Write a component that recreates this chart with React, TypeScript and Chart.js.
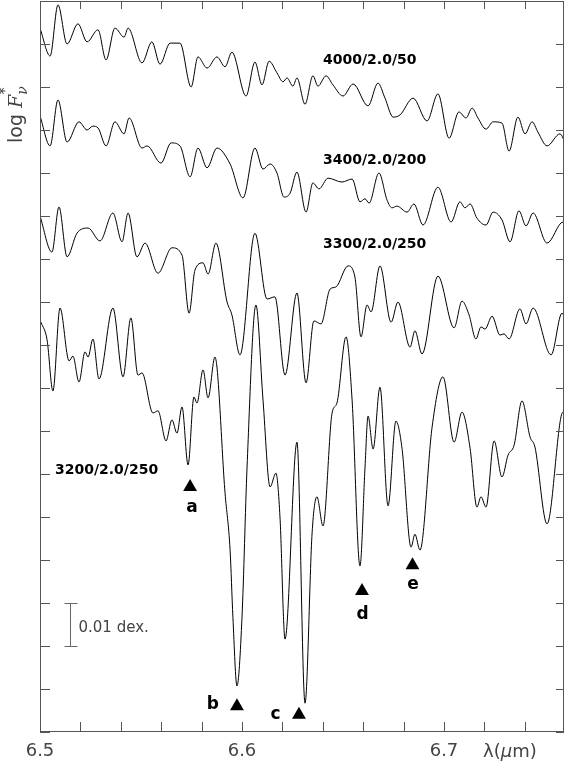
import React, { useEffect, useRef } from 'react';
import { Chart, registerables } from 'chart.js';
Chart.register(...registerables);

// wavelength (micron) and log F offset (units of 0.01 dex)
const wl4000 = [6.5000,6.5050,6.5089,6.5134,6.5188,6.5233,6.5287,6.5327,6.5371,6.5416,6.5436,6.5505,6.5554,6.5594,6.5644,6.5693,6.5748,6.5782,6.5827,6.5876,6.5916,6.5950,6.6020,6.6064,6.6099,6.6134,6.6173,6.6203,6.6223,6.6252,6.6272,6.6312,6.6351,6.6376,6.6416,6.6450,6.6500,6.6550,6.6624,6.6673,6.6708,6.6748,6.6782,6.6847,6.6916,6.6970,6.7025,6.7074,6.7109,6.7139,6.7168,6.7208,6.7243,6.7287,6.7322,6.7366,6.7401,6.7436,6.7465,6.7510,6.7574,6.7604];
const flux4000 = [16.37,15.72,16.91,16.00,16.47,16.05,16.33,15.63,16.37,16.16,16.37,15.56,16.05,15.53,16.02,16.02,15.00,15.70,15.44,15.70,15.47,15.81,14.79,15.58,15.05,15.60,15.33,15.12,15.21,15.02,15.21,14.60,15.26,15.02,15.26,15.05,14.79,15.07,14.56,15.09,14.74,14.30,14.35,14.74,14.21,14.84,13.81,14.42,14.28,14.51,14.28,14.02,14.19,14.16,13.51,14.30,13.91,14.19,13.95,13.63,13.91,13.65];

const wl3400 = [6.5000,6.5050,6.5089,6.5134,6.5193,6.5233,6.5262,6.5287,6.5327,6.5371,6.5416,6.5441,6.5505,6.5530,6.5599,6.5649,6.5693,6.5743,6.5782,6.5827,6.5876,6.5941,6.6005,6.6064,6.6104,6.6139,6.6173,6.6208,6.6238,6.6272,6.6317,6.6351,6.6381,6.6426,6.6495,6.6545,6.6584,6.6609,6.6629,6.6678,6.6718,6.6743,6.6767,6.6817,6.6851,6.6896,6.6970,6.7035,6.7079,6.7104,6.7129,6.7163,6.7208,6.7243,6.7287,6.7327,6.7371,6.7406,6.7441,6.7510,6.7589,6.7604];
const flux3400 = [14.33,13.63,14.70,13.72,14.19,14.00,14.09,14.05,13.63,14.19,13.91,14.28,13.58,13.63,13.23,13.70,13.63,12.91,13.58,13.12,13.58,13.21,12.42,13.58,13.09,13.21,13.00,12.44,12.53,13.02,12.09,12.77,12.63,12.88,12.79,12.86,12.33,12.40,12.30,13.00,12.37,12.19,12.23,12.09,12.28,11.79,12.67,11.86,12.33,12.19,12.28,11.95,11.79,12.09,11.91,11.40,12.12,11.77,12.07,11.37,11.86,11.63];

const wl3300 = [6.5000,6.5059,6.5094,6.5134,6.5183,6.5238,6.5297,6.5361,6.5406,6.5436,6.5480,6.5520,6.5584,6.5653,6.5703,6.5738,6.5767,6.5807,6.5832,6.5871,6.5926,6.5950,6.5990,6.6064,6.6124,6.6163,6.6213,6.6272,6.6317,6.6356,6.6391,6.6436,6.6465,6.6525,6.6559,6.6589,6.6619,6.6639,6.6683,6.6738,6.6772,6.6832,6.6856,6.6891,6.6970,6.7050,6.7089,6.7124,6.7158,6.7183,6.7203,6.7238,6.7277,6.7297,6.7322,6.7376,6.7406,6.7441,6.7530,6.7584,6.7604];
const flux3300 = [12.00,11.16,12.21,11.05,11.60,11.72,11.42,12.07,11.40,12.07,11.05,11.37,10.67,11.26,11.09,9.74,10.74,10.91,10.65,11.37,10.00,9.70,8.77,11.60,10.07,10.12,8.30,10.21,8.12,9.56,9.49,10.30,10.35,10.84,10.58,9.19,9.93,9.77,10.84,9.53,10.00,8.95,9.33,8.79,10.60,9.40,10.02,9.70,9.14,9.42,9.37,9.67,9.23,9.26,9.14,9.84,9.49,9.86,8.77,9.74,9.53];

const wl3200 = [6.5005,6.5035,6.5064,6.5099,6.5144,6.5163,6.5193,6.5223,6.5238,6.5262,6.5292,6.5361,6.5411,6.5450,6.5485,6.5505,6.5559,6.5584,6.5624,6.5653,6.5678,6.5703,6.5733,6.5762,6.5777,6.5807,6.5832,6.5866,6.5916,6.5941,6.5955,6.5975,6.6000,6.6025,6.6069,6.6104,6.6139,6.6168,6.6188,6.6213,6.6272,6.6312,6.6347,6.6371,6.6401,6.6446,6.6470,6.6515,6.6545,6.6584,6.6609,6.6624,6.6649,6.6683,6.6723,6.6762,6.6792,6.6837,6.6856,6.6881,6.6941,6.6995,6.7050,6.7089,6.7129,6.7163,6.7183,6.7208,6.7248,6.7287,6.7317,6.7347,6.7386,6.7426,6.7450,6.7510,6.7589,6.7604];
const flux3200 = [9.53,9.12,7.93,9.86,8.63,8.74,8.14,8.84,8.72,9.14,8.21,9.86,8.26,9.63,8.30,8.35,7.42,7.47,6.77,7.26,6.95,7.56,6.21,7.79,7.65,8.42,7.77,8.72,5.56,4.23,2.67,1.07,2.67,6.16,9.93,7.72,5.70,6.02,5.00,2.16,6.74,0.67,4.63,5.47,4.79,7.42,7.65,9.19,7.72,3.86,6.16,7.35,6.58,8.02,5.26,7.23,6.60,4.30,4.60,4.23,7.09,8.26,6.74,7.44,6.60,5.23,5.47,5.23,6.77,5.93,6.44,6.67,7.70,6.86,6.63,4.84,7.44,7.37];

// line markers
const markerLetters = ['a', 'b', 'c', 'd', 'e'];
const markerWl = [6.5743, 6.5975, 6.6282, 6.6594, 6.6844];
const markerFlux = [5.70, 0.60, 0.40, 3.28, 3.88];
const letterWl = [6.5752, 6.5856, 6.6166, 6.6597, 6.6847];
const letterFlux = [5.22, 0.63, 0.40, 2.74, 3.42];

// model labels
const modelNames = ['4000/2.0/50', '3400/2.0/200', '3300/2.0/250', '3200/2.0/250'];
const nameWl = [6.6401, 6.6401, 6.6401, 6.5074];
const nameFlux = [15.63, 13.30, 11.33, 6.09];

// scale bar (0.01 dex)
const scaleBarWl = 6.5149;
const scaleBarLow = 2;
const scaleBarHigh = 3;
const scaleBarText = '0.01 dex.';

const xMin = 6.5;
const xMax = 6.7594;
const xStep = 0.02;
const yMin = 0;
const yMax = 17;
const xTitleParts = ['λ(', 'μ', 'm)'];

const pts = (xs: number[], ys: number[]) => xs.map((x, i) => ({ x, y: ys[i] }));

const decorPlugin = {
  id: 'decor',
  afterDatasetsDraw(chart: any) {
    const { ctx, chartArea: a, scales } = chart;
    const x = scales.x;
    const y = scales.y;
    ctx.save();
    // frame
    ctx.strokeStyle = '#555';
    ctx.lineWidth = 1;
    ctx.strokeRect(a.left + 0.5, a.top + 0.5, a.right - a.left - 1, a.bottom - a.top - 1);
    ctx.beginPath();
    x.ticks.forEach((t: any) => {
      const px = Math.round(x.getPixelForValue(t.value)) + 0.5;
      ctx.moveTo(px, a.bottom);
      ctx.lineTo(px, a.bottom - 10);
      ctx.moveTo(px, a.top);
      ctx.lineTo(px, a.top + 8);
    });
    y.ticks.forEach((t: any) => {
      const py = Math.round(y.getPixelForValue(t.value)) + 0.5;
      ctx.moveTo(a.left, py);
      ctx.lineTo(a.left + 10, py);
      ctx.moveTo(a.right, py);
      ctx.lineTo(a.right - 8, py);
    });
    ctx.stroke();

    // scale bar
    const sx = Math.round(x.getPixelForValue(scaleBarWl)) + 0.5;
    const sy1 = Math.round(y.getPixelForValue(scaleBarHigh)) + 0.5;
    const sy2 = Math.round(y.getPixelForValue(scaleBarLow)) + 0.5;
    ctx.strokeStyle = '#666';
    ctx.beginPath();
    ctx.moveTo(sx, sy1); ctx.lineTo(sx, sy2);
    ctx.moveTo(sx - 6, sy1); ctx.lineTo(sx + 7, sy1);
    ctx.moveTo(sx - 6, sy2); ctx.lineTo(sx + 7, sy2);
    ctx.stroke();
    ctx.fillStyle = '#444';
    ctx.font = '15px "DejaVu Sans"';
    ctx.textAlign = 'left';
    ctx.textBaseline = 'middle';
    ctx.fillText(scaleBarText, sx + 8, (sy1 + sy2) / 2 + 3);

    // model labels
    ctx.fillStyle = '#000';
    ctx.font = 'bold 14px "DejaVu Sans"';
    modelNames.forEach((n, i) => {
      ctx.fillText(n, x.getPixelForValue(nameWl[i]), y.getPixelForValue(nameFlux[i]));
    });

    // letters
    ctx.font = 'bold 17px "DejaVu Sans"';
    ctx.textAlign = 'center';
    markerLetters.forEach((l, i) => {
      ctx.fillText(l, x.getPixelForValue(letterWl[i]), y.getPixelForValue(letterFlux[i]));
    });

    // x title
    ctx.fillStyle = '#444';
    ctx.textAlign = 'left';
    ctx.textBaseline = 'alphabetic';
    let tx = 483;
    const ty = 757;
    ctx.font = '18px "DejaVu Sans"';
    ctx.fillText(xTitleParts[0], tx, ty);
    tx += ctx.measureText(xTitleParts[0]).width;
    ctx.font = 'italic 18px "DejaVu Sans"';
    ctx.fillText(xTitleParts[1], tx, ty);
    tx += ctx.measureText(xTitleParts[1]).width;
    ctx.font = '18px "DejaVu Sans"';
    ctx.fillText(xTitleParts[2], tx, ty);

    // y title: log F*_nu (rotated)
    ctx.translate(22, 143);
    ctx.rotate(-Math.PI / 2);
    ctx.font = '19px "DejaVu Sans"';
    ctx.fillText('log ', 0, 0);
    let ox = ctx.measureText('log ').width;
    ctx.font = 'italic 19px "DejaVu Serif"';
    ctx.fillText('F', ox, 0);
    ox += ctx.measureText('F').width;
    ctx.font = 'italic 14px "DejaVu Serif"';
    ctx.fillText('ν', ox, 5);
    ctx.font = '15px "DejaVu Sans"';
    ctx.fillText('*', ox, -12);
    ctx.restore();
  },
};

export default function App() {
  const ref = useRef<HTMLCanvasElement>(null);
  useEffect(() => {
    document.body.style.margin = '0';
    const lineDs = (data: any) => ({
      type: 'line' as const,
      data,
      borderColor: '#000',
      borderWidth: 1,
      pointRadius: 0,
      fill: false,
      cubicInterpolationMode: 'monotone' as const,
    });
    const chart = new Chart(ref.current as HTMLCanvasElement, {
      type: 'line',
      data: {
        datasets: [
          lineDs(pts(wl4000, flux4000)),
          lineDs(pts(wl3400, flux3400)),
          lineDs(pts(wl3300, flux3300)),
          lineDs(pts(wl3200, flux3200)),
          {
            type: 'scatter' as const,
            data: pts(markerWl, markerFlux),
            pointStyle: 'triangle',
            pointRadius: 8,
            backgroundColor: '#000',
            borderColor: '#000',
            borderWidth: 0,
            showLine: false,
          } as any,
        ],
      },
      options: {
        responsive: false,
        animation: false,
        devicePixelRatio: 1,
        layout: { autoPadding: false, padding: { top: 1, right: 2, left: 0, bottom: 0 } },
        plugins: { legend: { display: false }, tooltip: { enabled: false } },
        scales: {
          x: {
            type: 'linear',
            min: xMin,
            max: xMax,
            grid: { display: false, drawTicks: false },
            border: { display: false },
            ticks: {
              stepSize: xStep,
              includeBounds: false,
              autoSkip: false,
              maxRotation: 0,
              padding: 9,
              color: '#444',
              font: { family: 'DejaVu Sans', size: 18 },
              callback: (v: any) => {
                const n = Number(v);
                return Math.abs(n * 10 - Math.round(n * 10)) < 1e-6 ? n.toFixed(1) : '';
              },
            },
            afterFit: (s: any) => { s.height = 35; },
          },
          y: {
            type: 'linear',
            min: yMin,
            max: yMax,
            grid: { display: false, drawTicks: false },
            border: { display: false },
            ticks: { stepSize: 1, display: false },
            afterFit: (s: any) => { s.width = 40; },
          },
        },
      },
      plugins: [decorPlugin],
    } as any);
    return () => chart.destroy();
  }, []);
  return (
    <div style={{ position: 'absolute', left: 0, top: 0, width: 566, height: 767 }}>
      <canvas ref={ref} width={566} height={767} />
    </div>
  );
}
